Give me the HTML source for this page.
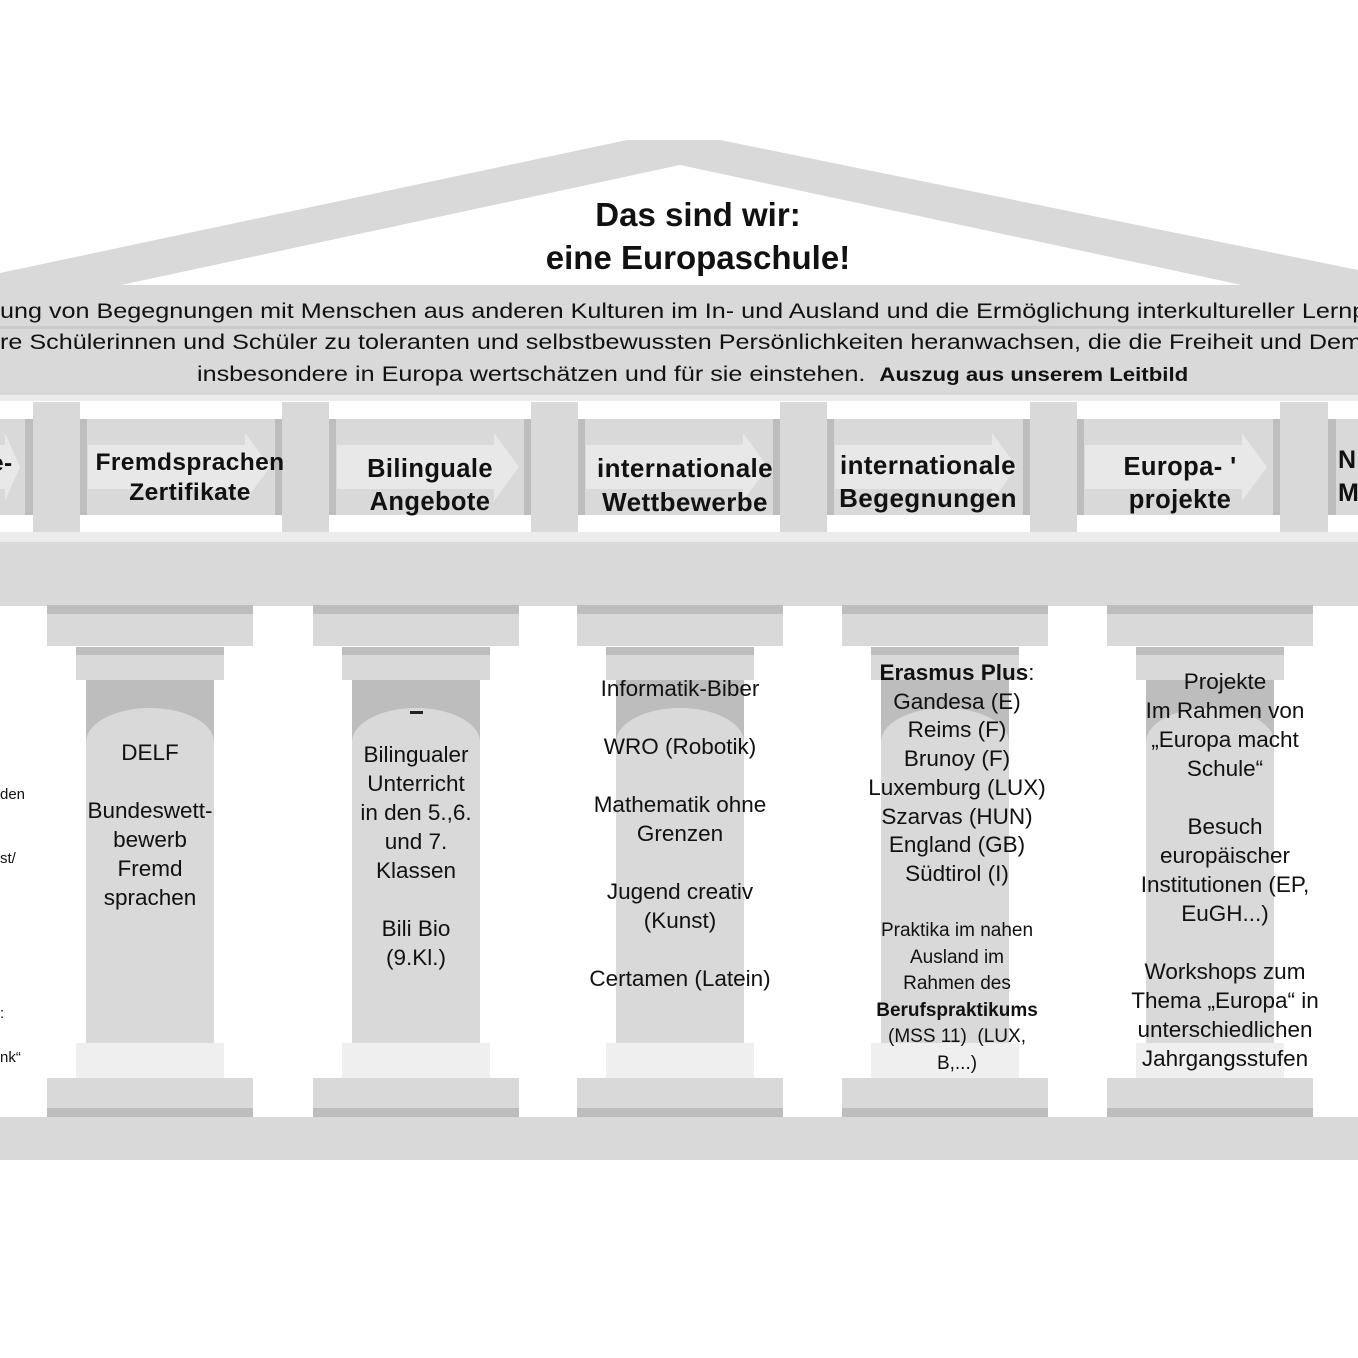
<!DOCTYPE html>
<html><head><meta charset="utf-8">
<style>
html,body{margin:0;padding:0;background:#fff;}
#c{position:relative;width:1358px;height:1358px;overflow:hidden;background:#fff;font-family:"Liberation Sans",sans-serif;color:#111;}
.a{position:absolute;}
.g{background:#d9d9d9;}
.d{background:#bdbdbd;}
.l{background:#efefef;}
.t{position:absolute;text-align:center;white-space:nowrap;transform:translateX(-50%);font-size:22.5px;line-height:29px;}
.h{position:absolute;text-align:center;white-space:nowrap;transform:translateX(-50%);font-weight:bold;font-size:24.5px;line-height:32px;letter-spacing:0.4px;}
.arch{position:absolute;left:0;right:0;top:28px;bottom:0;background:#d9d9d9;border-radius:64px 64px 0 0/34px 34px 0 0;}
.q{position:absolute;white-space:nowrap;font-size:21.5px;line-height:31.5px;transform:scaleX(1.17);transform-origin:0 0;}
</style></head><body><div id="c">

<svg class="a" style="left:0;top:0" width="1358" height="300">
<polygon points="0,273 627,140 720,140 1358,270 1358,287 1251,287 680,165 112,287 0,287" fill="#d9d9d9"/>
</svg>

<div class="a g" style="left:0;top:285px;width:1358px;height:110px;"></div>
<div class="a" style="left:0;top:326px;width:1358px;height:3px;background:#cbcbcb;"></div>
<div class="a" style="left:0;top:395px;width:1358px;height:6px;background:#ececec;"></div>

<div class="a" style="left:0;top:193px;width:1358px;text-align:center;font-weight:bold;font-size:33px;line-height:43px;"><span style="position:relative;left:19px">Das sind wir:<br>eine Europaschule!</span></div>

<div class="q" style="left:0;top:296px;">ung von Begegnungen mit Menschen aus anderen Kulturen im In- und Ausland und die Ermöglichung interkultureller Lernprozesse</div>
<div class="q" style="left:0;top:327px;">re Schülerinnen und Schüler zu toleranten und selbstbewussten Persönlichkeiten heranwachsen, die die Freiheit und Demokratie</div>
<div class="q" style="left:197px;top:359px;">insbesondere in Europa wertschätzen und für sie einstehen.&nbsp; <b style="font-size:19px">Auszug aus unserem Leitbild</b></div>

<!-- triglyph band panels -->
<div class="a g" style="left:0;top:419px;width:1358px;height:96px;"></div>
<div class="a d" style="left:25px;top:419px;width:8px;height:96px;"></div>
<div class="a d" style="left:80px;top:419px;width:7px;height:96px;"></div><div class="a d" style="left:275px;top:419px;width:7px;height:96px;"></div>
<div class="a d" style="left:329px;top:419px;width:7px;height:96px;"></div><div class="a d" style="left:524px;top:419px;width:7px;height:96px;"></div>
<div class="a d" style="left:578px;top:419px;width:7px;height:96px;"></div><div class="a d" style="left:773px;top:419px;width:7px;height:96px;"></div>
<div class="a d" style="left:827px;top:419px;width:7px;height:96px;"></div><div class="a d" style="left:1023px;top:419px;width:7px;height:96px;"></div>
<div class="a d" style="left:1077px;top:419px;width:7px;height:96px;"></div><div class="a d" style="left:1273px;top:419px;width:7px;height:96px;"></div>
<div class="a d" style="left:1328px;top:419px;width:8px;height:96px;"></div>

<svg class="a" style="left:0;top:419px" width="1358" height="96">
<g fill="#e8e8e8">
<polygon points="0,26 0,70 5,70 5,82 20,48 5,14 5,26"/>
<polygon points="88,26 245,26 245,14 270,48 245,82 245,70 88,70"/>
<polygon points="337,26 494,26 494,14 519,48 494,82 494,70 337,70"/>
<polygon points="586,26 743,26 743,14 768,48 743,82 743,70 586,70"/>
<polygon points="835,26 992,26 992,14 1017,48 992,82 992,70 835,70"/>
<polygon points="1085,26 1242,26 1242,14 1267,48 1242,82 1242,70 1085,70"/>
</g></svg>

<div class="a g" style="left:33px;top:402px;width:47px;height:130px;"></div>
<div class="a g" style="left:282px;top:402px;width:47px;height:130px;"></div>
<div class="a g" style="left:531px;top:402px;width:47px;height:130px;"></div>
<div class="a g" style="left:780px;top:402px;width:47px;height:130px;"></div>
<div class="a g" style="left:1030px;top:402px;width:47px;height:130px;"></div>
<div class="a g" style="left:1280px;top:402px;width:48px;height:130px;"></div>

<div class="h" style="top:448px;transform:none;left:-10px">e-</div>
<div class="h" style="left:190px;top:448px;line-height:30px">Fremdsprachen<br>Zertifikate</div>
<div class="h" style="left:430px;top:453px;font-size:25.5px;line-height:33px">Bilinguale<br>Angebote</div>
<div class="h" style="left:685px;top:451px;font-size:26px;line-height:34px">internationale<br>Wettbewerbe</div>
<div class="h" style="left:928px;top:449px;font-size:26px;line-height:33px">internationale<br>Begegnungen</div>
<div class="h" style="left:1180px;top:451px;font-size:25.5px;line-height:33px">Europa- '<br>projekte</div>
<div class="h" style="left:1338px;top:444px;transform:none;font-size:25px;line-height:33px;text-align:left">N<br>M</div>

<div class="a" style="left:0;top:532px;width:1358px;height:10px;background:#ececec;"></div>
<div class="a g" style="left:0;top:542px;width:1358px;height:64px;"></div>

<div id="p"></div>

<div class="a g" style="left:0;top:1117px;width:1358px;height:43px;"></div>

<div class="a" style="left:0;top:786px;font-size:15px;">den</div>
<div class="a" style="left:0;top:850px;font-size:15px;">st/</div>
<div class="a" style="left:0;top:1005px;font-size:15px;">:</div>
<div class="a" style="left:0;top:1049px;font-size:15px;">nk“</div>

<div class="t" style="left:150px;top:738px;">DELF<br><br>Bundeswett-<br>bewerb<br>Fremd<br>sprachen</div>
<div class="a" style="left:410px;top:711px;width:13px;height:3px;background:#222;"></div>
<div class="t" style="left:416px;top:740px;">Bilingualer<br>Unterricht<br>in den 5.,6.<br>und 7.<br>Klassen<br><br>Bili Bio<br>(9.Kl.)</div>
<div class="t" style="left:680px;top:674px;">Informatik-Biber<br><br>WRO (Robotik)<br><br>Mathematik ohne<br>Grenzen<br><br>Jugend creativ<br>(Kunst)<br><br>Certamen (Latein)</div>
<div class="t" style="left:957px;top:659px;line-height:28.7px;"><b>Erasmus Plus</b>:<br>Gandesa (E)<br>Reims (F)<br>Brunoy (F)<br>Luxemburg (LUX)<br>Szarvas (HUN)<br>England (GB)<br>Südtirol (I)</div>
<div class="t" style="left:957px;top:918px;font-size:19px;line-height:26.6px;">Praktika im nahen<br>Ausland im<br>Rahmen des<br><b>Berufspraktikums</b><br>(MSS 11)&nbsp; (LUX,<br>B,...)</div>
<div class="t" style="left:1225px;top:667px;">Projekte<br>Im Rahmen von<br>„Europa macht<br>Schule“<br><br>Besuch<br>europäischer<br>Institutionen (EP,<br>EuGH...)<br><br>Workshops zum<br>Thema „Europa“ in<br>unterschiedlichen<br>Jahrgangsstufen</div>

<script>
var p=document.getElementById('p'),h='';
[150,416,680,945,1210].forEach(function(c){
h+='<div class="a g" style="left:'+(c-103)+'px;top:605px;width:206px;height:41px"></div>';
h+='<div class="a d" style="left:'+(c-103)+'px;top:605px;width:206px;height:9px"></div>';
h+='<div class="a g" style="left:'+(c-74)+'px;top:647px;width:148px;height:33px"></div>';
h+='<div class="a d" style="left:'+(c-74)+'px;top:647px;width:148px;height:8px"></div>';
h+='<div class="a d" style="left:'+(c-64)+'px;top:680px;width:128px;height:363px"><div class="arch"></div></div>';
h+='<div class="a l" style="left:'+(c-74)+'px;top:1043px;width:148px;height:35px"></div>';
h+='<div class="a g" style="left:'+(c-103)+'px;top:1078px;width:206px;height:39px"></div>';
h+='<div class="a d" style="left:'+(c-103)+'px;top:1108px;width:206px;height:9px"></div>';
});
p.outerHTML=h;
</script>
</div></body></html>
